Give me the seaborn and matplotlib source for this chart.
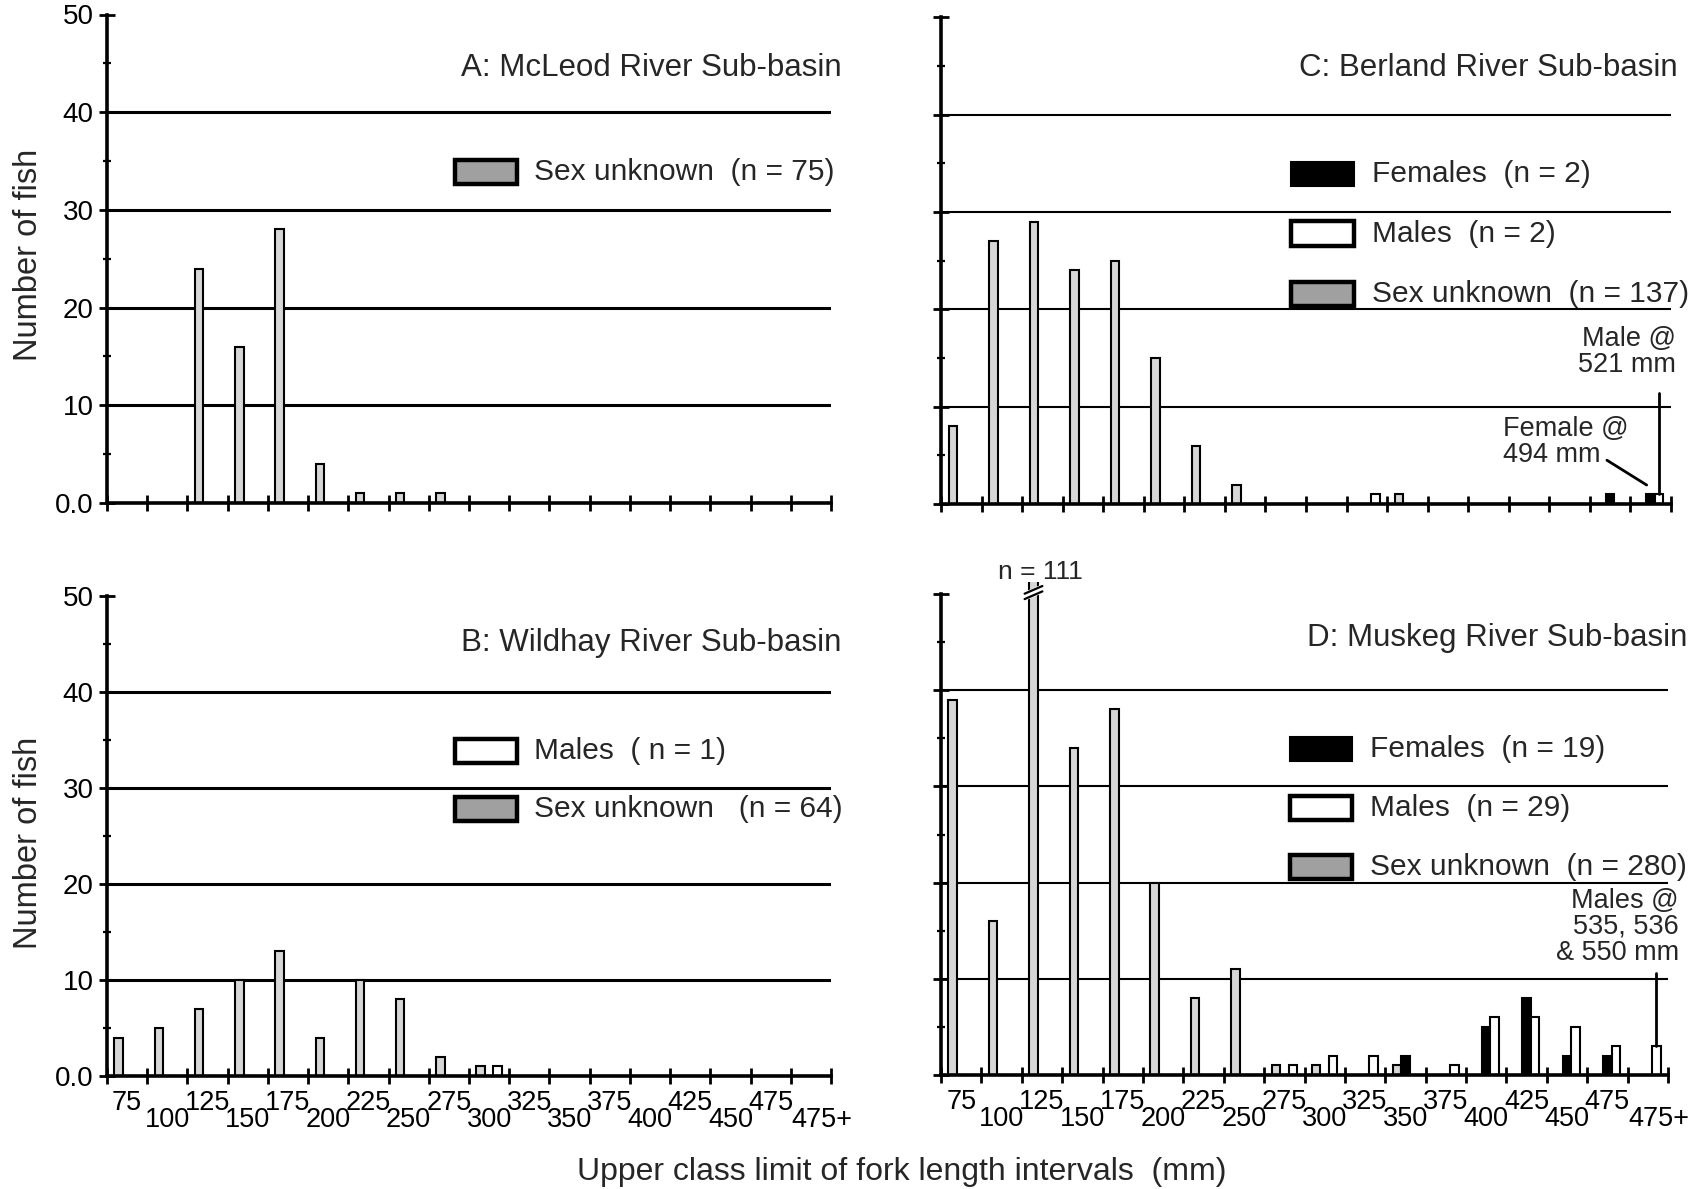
import numpy as np
import pandas as pd
import matplotlib
matplotlib.use("Agg")
import matplotlib.pyplot as plt
import seaborn as sns
from matplotlib.patches import Rectangle
from matplotlib.transforms import blended_transform_factory

# ---------------- data ----------------
categories = ["75", "100", "125", "150", "175", "200", "225", "250", "275",
              "300", "325", "350", "375", "400", "425", "450", "475", "475+"]
sexes = ["Sex unknown", "Females", "Males"]   # order of bars inside each class

A_unknown = [0, 0, 24, 16, 28, 4, 1, 1, 1, 0, 0, 0, 0, 0, 0, 0, 0, 0]
A_females = [0, 0, 0, 0, 0, 0, 0, 0, 0, 0, 0, 0, 0, 0, 0, 0, 0, 0]
A_males   = [0, 0, 0, 0, 0, 0, 0, 0, 0, 0, 0, 0, 0, 0, 0, 0, 0, 0]

B_unknown = [4, 5, 7, 10, 13, 4, 10, 8, 2, 1, 0, 0, 0, 0, 0, 0, 0, 0]
B_females = [0, 0, 0, 0, 0, 0, 0, 0, 0, 0, 0, 0, 0, 0, 0, 0, 0, 0]
B_males   = [0, 0, 0, 0, 0, 0, 0, 0, 0, 1, 0, 0, 0, 0, 0, 0, 0, 0]

C_unknown = [8, 27, 29, 24, 25, 15, 6, 2, 0, 0, 0, 1, 0, 0, 0, 0, 0, 0]
C_females = [0, 0, 0, 0, 0, 0, 0, 0, 0, 0, 0, 0, 0, 0, 0, 0, 1, 1]
C_males   = [0, 0, 0, 0, 0, 0, 0, 0, 0, 0, 1, 0, 0, 0, 0, 0, 0, 1]

D_unknown = [39, 16, 111, 34, 38, 20, 8, 11, 1, 1, 0, 1, 0, 0, 0, 0, 0, 0]
D_females = [0, 0, 0, 0, 0, 0, 0, 0, 0, 0, 0, 2, 0, 5, 8, 2, 2, 0]
D_males   = [0, 0, 0, 0, 0, 0, 0, 0, 1, 2, 2, 0, 1, 6, 6, 5, 3, 3]

titles = {"A": "A: McLeod River Sub-basin", "B": "B: Wildhay River Sub-basin",
          "C": "C: Berland River Sub-basin", "D": "D: Muskeg River Sub-basin"}
legend_labels = {
    "A": [("Sex unknown", "Sex unknown  (n = 75)")],
    "B": [("Males", "Males  ( n = 1)"), ("Sex unknown", "Sex unknown   (n = 64)")],
    "C": [("Females", "Females  (n = 2)"), ("Males", "Males  (n = 2)"),
          ("Sex unknown", "Sex unknown  (n = 137)")],
    "D": [("Females", "Females  (n = 19)"), ("Males", "Males  (n = 29)"),
          ("Sex unknown", "Sex unknown  (n = 280)")],
}
x_title = "Upper class limit of fork length intervals  (mm)"
y_title = "Number of fish"
ytick_vals = [0, 10, 20, 30, 40, 50]
ytick_labels = ["0.0", "10", "20", "30", "40", "50"]

# ---------------- style ----------------
sns.set_style("ticks")
plt.rcParams["font.family"] = ["Liberation Sans", "DejaVu Sans"]
palette = {"Sex unknown": "#d6d6d6", "Females": "#000000", "Males": "#ffffff"}
legend_face = {"Sex unknown": "#a0a0a0", "Females": "#000000", "Males": "#ffffff"}
BAR_WIDTH = 0.63
YTOP = 51.2

W, H = 1704, 1189
fig = plt.figure(figsize=(W / 100, H / 100), dpi=100)


def rect(left_px, right_px, zero_px, px_per_unit):
    height_px = YTOP * px_per_unit
    return [left_px / W, 1 - zero_px / H, (right_px - left_px) / W, height_px / H]


layout = {
    "A": rect(107, 831, 503, 9.77),
    "C": rect(941, 1671, 504, 9.73),
    "B": rect(107, 831, 1076, 9.60),
    "D": rect(941, 1668, 1075, 9.62),
}
series = {
    "A": (A_unknown, A_females, A_males),
    "B": (B_unknown, B_females, B_males),
    "C": (C_unknown, C_females, C_males),
    "D": (D_unknown, D_females, D_males),
}
title_x = {"A": 1.014, "B": 1.014, "C": 1.009, "D": 1.027}
title_y = {"A": 43.7, "B": 44.3, "C": 44.0, "D": 44.6}
grid_lw = {"A": 2.2, "B": 2.2, "C": 1.5, "D": 1.5}

# label anchor positions (the open-ended last class label sits a bit right)
label_pos = list(np.arange(len(categories), dtype=float))
label_pos[-1] += 0.28


def bar_x(cat, sex):
    w = BAR_WIDTH / len(sexes)
    return categories.index(cat) + (sexes.index(sex) - (len(sexes) - 1) / 2) * w


axes = {}
for key in ["A", "C", "B", "D"]:
    ax = fig.add_axes(layout[key])
    axes[key] = ax
    unk, fem, mal = series[key]
    df = pd.DataFrame({
        "cls": categories * 3,
        "sex": [s for s in sexes for _ in categories],
        "n": list(unk) + list(fem) + list(mal),
    })
    sns.barplot(data=df, x="cls", y="n", hue="sex", order=categories,
                hue_order=sexes, palette=palette, width=BAR_WIDTH,
                edgecolor="black", linewidth=1.5, errorbar=None,
                saturation=1, legend=False, ax=ax, zorder=2)
    ax.set_xlabel("")
    ax.set_ylabel("")
    ax.set_xlim(-0.5, len(categories) - 0.5)
    ax.set_ylim(0, YTOP)

    # grid lines at 10..40
    for yv in ytick_vals[1:-1]:
        ax.axhline(yv, color="black", lw=grid_lw[key], zorder=0.5)

    # spines
    for s in ["top", "right"]:
        ax.spines[s].set_visible(False)
    for s in ["left", "bottom"]:
        ax.spines[s].set_linewidth(2.6)
        ax.spines[s].set_color("black")
    ax.spines["left"].set_bounds(0, 50)

    # y ticks
    ax.set_yticks(ytick_vals)
    if key in ("A", "B"):
        ax.set_yticklabels(ytick_labels)
    else:
        ax.set_yticklabels([])
    ax.set_yticks(np.arange(5, 50, 10), minor=True)
    ax.tick_params(axis="y", which="major", left=True, direction="inout",
                   length=11, width=2, labelsize=20, pad=4, colors="black")
    ax.tick_params(axis="y", which="minor", left=True, direction="inout",
                   length=6, width=1.6, colors="black")

    # x ticks: marks at class boundaries, labels at class centres
    ax.set_xticks(np.arange(-0.5, len(categories), 1))
    ax.set_xticklabels([])
    ax.set_xticks(label_pos, minor=True)
    if key in ("B", "D"):
        ax.set_xticklabels(categories, minor=True)
    else:
        ax.set_xticklabels([], minor=True)
    ax.tick_params(axis="x", which="major", bottom=True, direction="inout",
                   length=11, width=2, colors="black")
    ax.tick_params(axis="x", which="minor", bottom=True, length=0,
                   labelsize=19.5, colors="black")
    for i, t in enumerate(ax.xaxis.get_minor_ticks()):
        t.set_pad(10 if i % 2 == 0 else 22.5)

    # title
    tr = blended_transform_factory(ax.transAxes, ax.transData)
    ax.text(title_x[key], title_y[key], titles[key], transform=tr, ha="right",
            va="baseline", fontsize=22.5, clip_on=False)

    # legend (drawn as boxes + text)
    rows = [33.9, 27.8, 21.6]
    for (sex, label), yc in zip(legend_labels[key], rows):
        lw = 3.2 if sex != "Females" else 1.5
        ax.add_patch(Rectangle((0.48, yc - 1.25), 0.086, 2.5, transform=tr,
                               facecolor=legend_face[sex], edgecolor="black",
                               lw=lw, clip_on=False, zorder=3))
        ax.text(0.59, yc, label, transform=tr, ha="left", va="center",
                fontsize=21.5, clip_on=False)

# ---------------- annotations ----------------
axC = axes["C"]
trC = blended_transform_factory(axC.transAxes, axC.transData)
last = categories[-1]
xm = bar_x(last, "Males")
ym = C_males[-1]
axC.plot([xm, xm], [ym, 11.4], color="black", lw=2, zorder=3, clip_on=False)
axC.text(1.007, 18.3, "Male @\n521 mm", transform=trC, ha="right", va="top",
         fontsize=19.5, linespacing=1.0)
xf = bar_x(last, "Females")
yf = C_females[-1]
axC.plot([xf - 1.08, xf - 0.1], [yf + 3.5, yf + 0.95], color="black", lw=2,
         zorder=3)
axC.text(13.36, 9.0, "Female @\n494 mm", ha="left", va="top", fontsize=19.5,
         linespacing=1.0)

axD = axes["D"]
trD = blended_transform_factory(axD.transAxes, axD.transData)
xm = bar_x(last, "Males")
ym = D_males[-1]
axD.plot([xm, xm], [ym, 10.6], color="black", lw=2, zorder=3, clip_on=False)
axD.text(1.015, 19.4, "Males @\n535, 536\n& 550 mm", transform=trD, ha="right",
         va="top", fontsize=19.5, linespacing=0.98)

# broken bar (n = 111)
big_cat = categories[int(np.argmax(D_unknown))]
xb = bar_x(big_cat, "Sex unknown")
axD.plot([xb - 0.22, xb + 0.22], [49.75, 50.55], color="white", lw=6,
         zorder=4, clip_on=False, solid_capstyle="butt")
for dy in (-0.28, 0.28):
    axD.plot([xb - 0.22, xb + 0.22], [49.75 + dy, 50.55 + dy], color="black",
             lw=1.6, zorder=5, clip_on=False)
axD.text(xb + 0.17, 51.6, "n = %d" % max(D_unknown), ha="center",
         va="baseline", fontsize=19, clip_on=False)

# ---------------- shared axis titles ----------------
fig.text(0.529, 0.0076, x_title, ha="center", va="baseline", fontsize=23)
fig.text(0.0167, 0.7855, y_title, rotation=90, ha="center", va="center",
         fontsize=23.5)
fig.text(0.0167, 0.291, y_title, rotation=90, ha="center", va="center",
         fontsize=23.5)

fig.savefig("out.png", dpi=100)
